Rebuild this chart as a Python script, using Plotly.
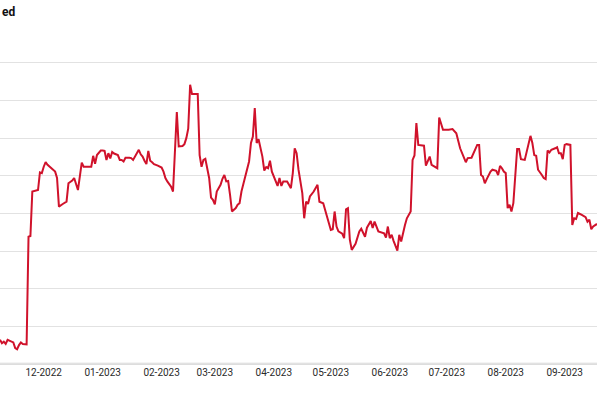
import plotly.graph_objects as go

dates = [
    "2022-11-08", "2022-11-09", "2022-11-10", "2022-11-11", "2022-11-12", "2022-11-13", "2022-11-15",
    "2022-11-16", "2022-11-17", "2022-11-18", "2022-11-19", "2022-11-20", "2022-11-21", "2022-11-22",
    "2022-11-23", "2022-11-24", "2022-11-25", "2022-11-27", "2022-11-28", "2022-11-29", "2022-11-30",
    "2022-12-01", "2022-12-02", "2022-12-03", "2022-12-05", "2022-12-07", "2022-12-08", "2022-12-09",
    "2022-12-11", "2022-12-13", "2022-12-14", "2022-12-16", "2022-12-17", "2022-12-18", "2022-12-19",
    "2022-12-21", "2022-12-22", "2022-12-24", "2022-12-25", "2022-12-26", "2022-12-27", "2022-12-28",
    "2022-12-29", "2022-12-31",
    "2023-01-01", "2023-01-02", "2023-01-03", "2023-01-04", "2023-01-05", "2023-01-06", "2023-01-07",
    "2023-01-09", "2023-01-10", "2023-01-11", "2023-01-12", "2023-01-13", "2023-01-15", "2023-01-16",
    "2023-01-17", "2023-01-18", "2023-01-20", "2023-01-21", "2023-01-22", "2023-01-23", "2023-01-24",
    "2023-01-25", "2023-01-26", "2023-01-27", "2023-01-28", "2023-01-30",
    "2023-02-01", "2023-02-02", "2023-02-03", "2023-02-04", "2023-02-06", "2023-02-07", "2023-02-09",
    "2023-02-10", "2023-02-12", "2023-02-13", "2023-02-14", "2023-02-15", "2023-02-16", "2023-02-17",
    "2023-02-18", "2023-02-20", "2023-02-21", "2023-02-22", "2023-02-23", "2023-02-24", "2023-02-26",
    "2023-02-27", "2023-02-28",
    "2023-03-01", "2023-03-02", "2023-03-04", "2023-03-05", "2023-03-06", "2023-03-07", "2023-03-08",
    "2023-03-09", "2023-03-10", "2023-03-12", "2023-03-13", "2023-03-14", "2023-03-15", "2023-03-17",
    "2023-03-19", "2023-03-20", "2023-03-21", "2023-03-22", "2023-03-23", "2023-03-24", "2023-03-26",
    "2023-03-27", "2023-03-28", "2023-03-29", "2023-03-30", "2023-03-31",
    "2023-04-01", "2023-04-02", "2023-04-03", "2023-04-04", "2023-04-05", "2023-04-06", "2023-04-08",
    "2023-04-09", "2023-04-10", "2023-04-11", "2023-04-12", "2023-04-13", "2023-04-14", "2023-04-16",
    "2023-04-17", "2023-04-18", "2023-04-19", "2023-04-20", "2023-04-22", "2023-04-24", "2023-04-25",
    "2023-04-27", "2023-04-28", "2023-04-29",
    "2023-05-01", "2023-05-02", "2023-05-03", "2023-05-04", "2023-05-05", "2023-05-07", "2023-05-08",
    "2023-05-09", "2023-05-10", "2023-05-11", "2023-05-12", "2023-05-14", "2023-05-15", "2023-05-16",
    "2023-05-17", "2023-05-19", "2023-05-20", "2023-05-22", "2023-05-23", "2023-05-24", "2023-05-26",
    "2023-05-28", "2023-05-29", "2023-05-30", "2023-05-31",
    "2023-06-01", "2023-06-02", "2023-06-03", "2023-06-05", "2023-06-06", "2023-06-07", "2023-06-09",
    "2023-06-10", "2023-06-12", "2023-06-13", "2023-06-14", "2023-06-15", "2023-06-16", "2023-06-18",
    "2023-06-19", "2023-06-20", "2023-06-22", "2023-06-23", "2023-06-26", "2023-06-27", "2023-06-29",
    "2023-07-02", "2023-07-04", "2023-07-06", "2023-07-08", "2023-07-11", "2023-07-12", "2023-07-14",
    "2023-07-17", "2023-07-18", "2023-07-19", "2023-07-20", "2023-07-21", "2023-07-22", "2023-07-24",
    "2023-07-25", "2023-07-27", "2023-07-28", "2023-07-29", "2023-07-30", "2023-07-31",
    "2023-08-01", "2023-08-02", "2023-08-03", "2023-08-04", "2023-08-05", "2023-08-06", "2023-08-07",
    "2023-08-08", "2023-08-09", "2023-08-11", "2023-08-12", "2023-08-14", "2023-08-15", "2023-08-16",
    "2023-08-17", "2023-08-18", "2023-08-20", "2023-08-21", "2023-08-22", "2023-08-23", "2023-08-24",
    "2023-08-25", "2023-08-27", "2023-08-28", "2023-08-29", "2023-08-30", "2023-08-31",
    "2023-09-01", "2023-09-02", "2023-09-04", "2023-09-05", "2023-09-06", "2023-09-07", "2023-09-08",
    "2023-09-10", "2023-09-12", "2023-09-13", "2023-09-14", "2023-09-15", "2023-09-16", "2023-09-18",
]

values = [
    6.4, 5.5, 5.9, 5.3, 6.4, 6.2, 5.7,
    4.2, 3.9, 5.0, 5.7, 5.3, 5.3, 5.2,
    33.8, 34.0, 45.8, 46.1, 46.2, 50.9, 50.7,
    52.4, 53.6, 52.9, 52.0, 51.1, 49.4, 41.8,
    42.5, 43.1, 48.0, 48.7, 49.4, 47.6, 46.2,
    53.5, 52.4, 52.4, 52.4, 52.4, 55.3, 53.2,
    55.5, 56.7,
    56.7, 56.6, 54.2, 56.0, 54.6, 56.3, 55.9,
    55.5, 54.2, 54.2, 53.8, 54.8, 54.8, 54.7,
    54.2, 55.1, 56.9, 55.7, 55.1, 54.0, 53.1,
    56.6, 54.0, 53.6, 53.1, 52.7,
    52.2, 51.1, 49.4, 48.5, 47.1, 45.8, 66.9,
    57.8, 57.9, 58.4, 60.0, 62.5, 74.2, 71.7,
    71.7, 71.7, 55.5, 52.4, 54.2, 54.5, 49.4,
    44.2, 43.6,
    42.4, 45.8, 47.6, 49.2, 50.2, 48.5, 48.6,
    44.9, 40.5, 41.4, 42.3, 42.7, 45.8, 49.8,
    53.8, 58.7, 60.4, 68.0, 58.7, 59.7, 55.1,
    51.4, 52.3, 52.0, 54.0, 51.1,
    49.8, 48.2, 47.3, 49.4, 47.3, 48.5, 48.5,
    47.6, 46.7, 50.7, 57.3, 56.0, 51.6, 45.4,
    38.7, 43.1, 42.5, 44.5, 45.8, 47.6, 43.1,
    42.7, 40.9, 38.7,
    35.6, 35.8, 40.5, 36.5, 35.2, 34.6, 33.4,
    41.1, 41.4, 33.0, 30.3, 31.9, 33.7, 35.2,
    35.9, 33.8, 36.2, 38.0, 36.1, 37.8, 35.2,
    35.0, 34.7, 33.6, 36.5,
    33.4, 34.3, 32.7, 30.1, 34.3, 32.5, 36.9,
    38.7, 40.5, 54.2, 55.4, 64.0, 58.2, 58.2,
    58.0, 52.7, 55.1, 52.9, 52.0, 65.5, 62.2,
    62.2, 62.4, 61.3, 57.3, 53.6, 54.7, 54.8,
    58.2, 58.2, 50.2, 49.8, 48.0, 49.1, 51.1,
    51.6, 51.3, 50.2, 52.6, 52.0, 51.1,
    50.7, 41.4, 42.3, 40.5, 42.7, 48.9, 57.1,
    57.1, 54.4, 54.2, 56.4, 60.6, 58.7, 55.5,
    55.3, 51.6, 50.2, 49.4, 49.1, 56.7, 56.2,
    56.9, 57.3, 57.6, 56.0, 56.0, 54.4,
    58.2, 58.4, 58.2, 36.9, 38.7, 38.5, 40.1,
    39.6, 39.0, 37.8, 38.3, 35.8, 36.5, 37.2,
]

title_text = "ed"
hidden_tick_label = "11-2022"
baseline_value = 0

FONT = "Roboto, sans-serif"

fig = go.Figure()
fig.add_trace(go.Scatter(
    x=dates, y=values, mode="lines",
    line=dict(color="#d0122b", width=2),
    hoverinfo="skip", showlegend=False, cliponaxis=True,
))

fig.add_shape(
    type="line", xref="paper", x0=0, x1=1,
    yref="y", y0=baseline_value, y1=baseline_value,
    line=dict(color="#d2d2d2", width=2), layer="below",
)

fig.update_layout(
    template="none",
    width=597, height=398,
    margin=dict(l=0, r=0, t=61, b=33, pad=0),
    paper_bgcolor="white", plot_bgcolor="white",
    font=dict(family=FONT, color="#333333", size=10),
    hovermode=False,
    xaxis=dict(
        type="date", automargin=False,
        range=["2022-11-08", "2023-09-18"],
        tick0="2022-11-01", dtick="M1", tickformat="%m-%Y",
        showgrid=False, ticks="", showline=False, zeroline=False,
        tickfont=dict(family=FONT, size=10, color="#2a2a2a"),
        fixedrange=True,
    ),
    yaxis=dict(
        automargin=False,
        range=[-0.3, 80.5], dtick=10, tick0=0,
        showticklabels=False, showgrid=True,
        gridcolor="#e2e2e2", gridwidth=1,
        zeroline=False, showline=False, ticks="",
        fixedrange=True,
    ),
    annotations=[
        dict(text="<b>" + title_text + "</b>", xref="paper", yref="paper",
             x=0, y=1.162, xanchor="left", yanchor="middle", showarrow=False,
             font=dict(family=FONT, size=12, color="#111111")),
        dict(text=hidden_tick_label, xref="x", yref="paper",
             x="2022-11-01", y=0, yanchor="top", xanchor="center", yshift=-3,
             showarrow=False,
             font=dict(family=FONT, size=10, color="#2a2a2a")),
    ],
)

fig.write_html(
    "out.html",
    config={"displayModeBar": False, "staticPlot": True},
    post_script="document.body.style.margin='0';document.body.style.padding='0';",
)
